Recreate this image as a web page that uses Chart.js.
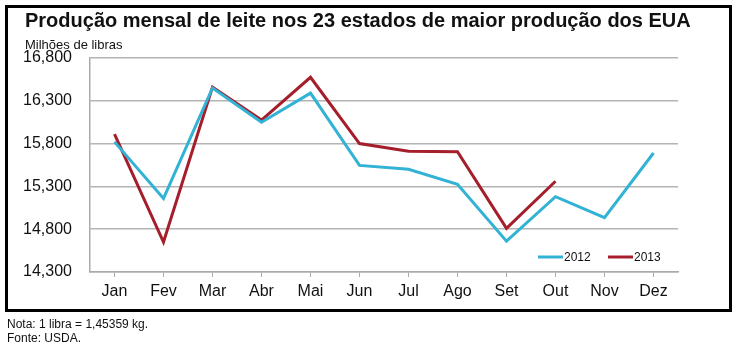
<!DOCTYPE html>
<html>
<head>
<meta charset="utf-8">
<script src="https://cdn.jsdelivr.net/npm/chart.js@4.4.1/dist/chart.umd.min.js"></script>
<style>
  html, body { margin: 0; padding: 0; background: #fff; width: 737px; height: 350px; overflow: hidden; }
  #box { position: absolute; left: 5px; top: 5px; width: 721px; height: 301px; border: 3px solid #000; }
  #title { position: absolute; left: 25px; top: 9px; font: bold 20px "Liberation Sans", Arial, sans-serif; color: #111; white-space: nowrap; }
  #sub { position: absolute; left: 25px; top: 37px; font: 13px "Liberation Sans", Arial, sans-serif; color: #111; white-space: nowrap; }
  .note { position: absolute; left: 7px; font: 12px "Liberation Sans", Arial, sans-serif; color: #111; white-space: nowrap; }
  canvas { position: absolute; left: 0; top: 0; }
</style>
</head>
<body>
<div id="box"></div>
<canvas id="c" width="737" height="350"></canvas>
<div id="title">Produção mensal de leite nos 23 estados de maior produção dos EUA</div>
<div id="sub">Milhões de libras</div>
<div class="note" style="top:317px">Nota: 1 libra = 1,45359 kg.</div>
<div class="note" style="top:331px">Fonte: USDA.</div>
<script>
const months = ["Jan","Fev","Mar","Abr","Mai","Jun","Jul","Ago","Set","Out","Nov","Dez"];
const series2012 = [15820, 15160, 16450, 16050, 16390, 15545, 15500, 15325, 14660, 15180, 14935, 15690];
const series2013 = [15910, 14650, 16460, 16075, 16575, 15800, 15710, 15705, 14810, 15360, null, null];
const yMin = 14300, yMax = 16800, yStep = 500;

const legendPlugin = {
  id: 'insideLegend',
  afterDraw(chart) {
    const ctx = chart.ctx;
    const area = chart.chartArea;
    const y = area.bottom - 15;
    let x = area.right - 140;
    ctx.save();
    ctx.font = '12px "Liberation Sans", Arial, sans-serif';
    ctx.textBaseline = 'middle';
    chart.data.datasets.forEach(ds => {
      ctx.strokeStyle = ds.borderColor;
      ctx.lineWidth = 3;
      ctx.beginPath();
      ctx.moveTo(x, y);
      ctx.lineTo(x + 25, y);
      ctx.stroke();
      ctx.fillStyle = '#111';
      ctx.fillText(ds.label, x + 26, y + 0.5);
      x += 70;
    });
    ctx.restore();
  }
};

new Chart(document.getElementById('c'), {
  type: 'line',
  data: {
    labels: months,
    datasets: [
      { label: '2012', data: series2012, borderColor: '#32b2d5', borderWidth: 3, pointRadius: 0, tension: 0, spanGaps: false },
      { label: '2013', data: series2013, borderColor: '#a41e2b', borderWidth: 3, pointRadius: 0, tension: 0, spanGaps: false }
    ]
  },
  options: {
    responsive: false,
    animation: false,
    events: [],
    layout: { padding: { left: 0, right: 59, top: 58, bottom: 0 } },
    plugins: { legend: { display: false }, tooltip: { enabled: false }, title: { display: false } },
    scales: {
      x: {
        offset: true,
        grid: { offset: false, drawOnChartArea: false, drawTicks: true, tickLength: 5, color: '#aaa' },
        border: { color: '#aaa', width: 1.5 },
        ticks: { color: '#111', font: { family: '"Liberation Sans", Arial, sans-serif', size: 16 }, padding: 5, maxRotation: 0 },
        afterFit(scale) { scale.height = 78; }
      },
      y: {
        min: yMin, max: yMax,
        grid: { color: '#b4b4b4', lineWidth: 1.5, drawTicks: false },
        border: { color: '#aaa', width: 1.5 },
        ticks: {
          stepSize: yStep, color: '#111', padding: 18,
          font: { family: '"Liberation Sans", Arial, sans-serif', size: 16 },
          callback: v => v.toLocaleString('en-US')
        },
        afterFit(scale) { scale.width = 90; }
      }
    }
  },
  plugins: [legendPlugin]
});
</script>
</body>
</html>
